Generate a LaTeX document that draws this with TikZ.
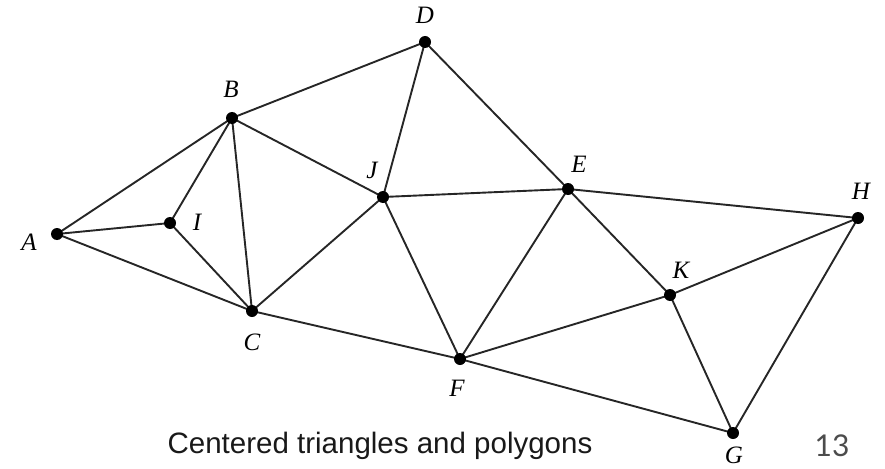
\documentclass[tikz,border=0pt]{standalone}
\usepackage{fontspec}
\setmainfont{Liberation Serif}
\newfontfamily\capfont{Liberation Sans}
\newfontfamily\numfont{Lato}
\begin{document}
\begin{tikzpicture}[x=1pt,y=-1pt,
  vtx/.style={circle,fill=black,inner sep=0pt,minimum size=12pt},
  edge/.style={line width=1.9pt,black!85},
  lab/.style={font=\fontsize{25}{25}\selectfont\itshape,inner sep=1pt},
  captext/.style={font=\capfont\fontsize{29.5}{29.5}\selectfont,text=black!90}]
\useasboundingbox (0,0) rectangle (885,468);
\coordinate (A) at (57,234);
\coordinate (I) at (170,223);
\coordinate (B) at (232,118);
\coordinate (C) at (252,311);
\coordinate (D) at (425,42);
\coordinate (J) at (383,197);
\coordinate (E) at (568,189);
\coordinate (H) at (858,218);
\coordinate (K) at (670,295);
\coordinate (F) at (460,359);
\coordinate (G) at (733,433);
\foreach \u/\v in {A/B,A/I,A/C,I/B,I/C,B/C,B/D,B/J,C/J,C/F,D/J,D/E,J/E,J/F,E/F,E/H,E/K,K/H,K/F,K/G,H/G,F/G}
  \draw[edge] (\u) -- (\v);
\foreach \p in {A,I,B,C,D,J,E,H,K,F,G}
  \node[vtx] (n\p) at (\p) {};
\node[lab] (lA) at (29,242) {A};
\node[lab] (lI) at (197,222) {I};
\node[lab] (lB) at (231,89) {B};
\node[lab] (lC) at (252,342) {C};
\node[lab] (lD) at (425,15) {D};
\node[lab] (lJ) at (372,170) {J};
\node[lab] (lE) at (579,164) {E};
\node[lab] (lH) at (861,191) {H};
\node[lab] (lK) at (681,270) {K};
\node[lab] (lF) at (457,388) {F};
\node[lab] (lG) at (734,455) {G};
\node[captext] (caption) at (380,446) {Centered triangles and polygons};
\node[font=\numfont\fontsize{30}{30}\selectfont,text=black!70] (num) at (832,446) {13};
\end{tikzpicture}
\end{document}
